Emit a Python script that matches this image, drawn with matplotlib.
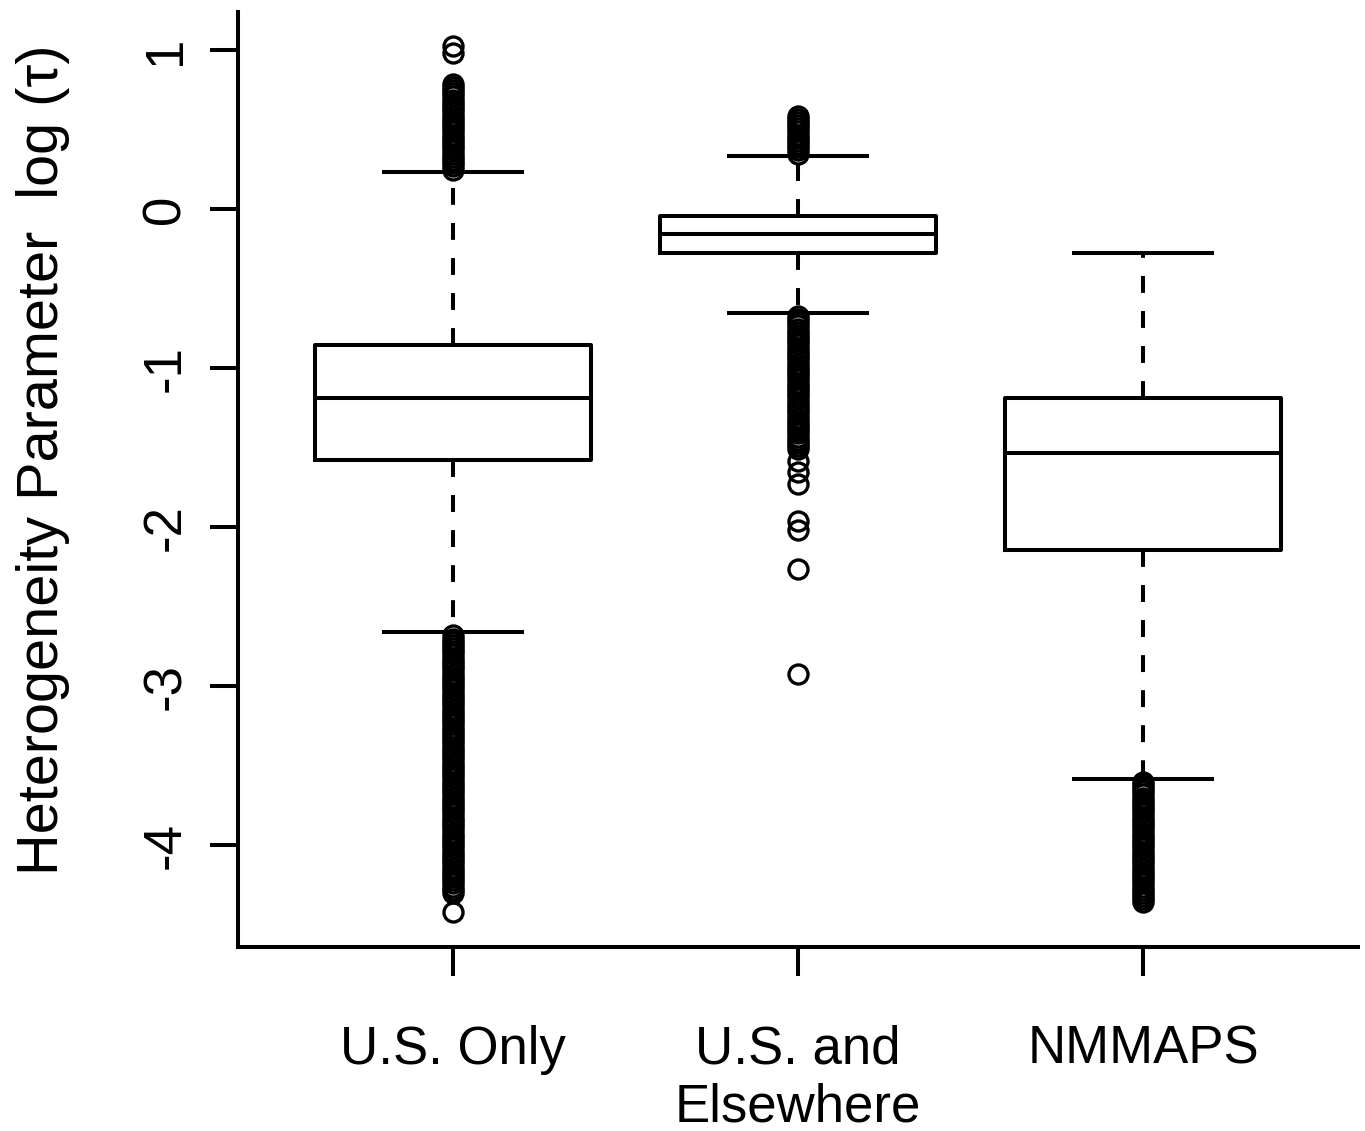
import matplotlib
matplotlib.use("Agg")
import matplotlib.pyplot as plt

plt.rcParams['font.family'] = ['Liberation Sans', 'DejaVu Sans']

categories = ["U.S. Only", "U.S. and\nElsewhere", "NMMAPS"]
positions = [1, 2, 3]

whisker_low = [-2.66, -0.65, -3.585]
q1_values = [-1.577, -0.275, -2.14]
median_values = [-1.187, -0.155, -1.53]
q3_values = [-0.853, -0.042, -1.187]
whisker_high = [0.235, 0.335, -0.275]

outliers_us_only = [
    0.25, 0.27, 0.29, 0.31, 0.33, 0.35, 0.37, 0.39, 0.41, 0.43, 0.45, 0.47,
    0.49, 0.51, 0.53, 0.55, 0.57, 0.59, 0.61, 0.63, 0.65, 0.67, 0.69, 0.71,
    0.73, 0.75, 0.77, 0.79, 0.98, 1.03,
    -2.68, -2.70, -2.72, -2.74, -2.76, -2.78, -2.80, -2.82, -2.84, -2.86,
    -2.88, -2.90, -2.92, -2.94, -2.96, -2.98, -3.00, -3.02, -3.04, -3.06,
    -3.08, -3.10, -3.12, -3.14, -3.16, -3.18, -3.20, -3.22, -3.24, -3.26,
    -3.28, -3.30, -3.32, -3.34, -3.36, -3.38, -3.40, -3.42, -3.44, -3.46,
    -3.48, -3.50, -3.52, -3.54, -3.56, -3.58, -3.60, -3.62, -3.64, -3.66,
    -3.68, -3.70, -3.72, -3.74, -3.76, -3.78, -3.80, -3.82, -3.84, -3.86,
    -3.88, -3.90, -3.92, -3.94, -3.96, -3.98, -4.00, -4.02, -4.04, -4.06,
    -4.08, -4.10, -4.12, -4.14, -4.16, -4.18, -4.20, -4.22, -4.24, -4.26,
    -4.28, -4.30, -4.42,
]
outliers_us_else = [
    0.35, 0.37, 0.39, 0.41, 0.43, 0.45, 0.47, 0.49, 0.51, 0.53, 0.55, 0.57,
    0.59,
    -0.67, -0.69, -0.71, -0.73, -0.75, -0.77, -0.79, -0.81, -0.83, -0.85,
    -0.87, -0.89, -0.91, -0.93, -0.95, -0.97, -0.99, -1.01, -1.03, -1.05,
    -1.07, -1.09, -1.11, -1.13, -1.15, -1.17, -1.19, -1.21, -1.23, -1.25,
    -1.27, -1.29, -1.31, -1.33, -1.35, -1.37, -1.39, -1.41, -1.43, -1.45,
    -1.47, -1.49, -1.51, -1.58, -1.65, -1.73, -1.96, -2.02, -2.26, -2.92,
]
outliers_nmmaps = [
    -3.60, -3.62, -3.64, -3.66, -3.68, -3.70, -3.72, -3.74, -3.76, -3.78,
    -3.80, -3.82, -3.84, -3.86, -3.88, -3.90, -3.92, -3.94, -3.96, -3.98,
    -4.00, -4.02, -4.04, -4.06, -4.08, -4.10, -4.12, -4.14, -4.16, -4.18,
    -4.20, -4.22, -4.24, -4.26, -4.28, -4.30, -4.32, -4.34, -4.36,
]
outlier_lists = [outliers_us_only, outliers_us_else, outliers_nmmaps]

y_ticks = [-4, -3, -2, -1, 0, 1]
y_tick_labels = ["-4", "-3", "-2", "-1", "0", "1"]
y_label = "Heterogeneity Parameter  log (\u03c4)"

W, H = 1365, 1131
fig = plt.figure(figsize=(W / 100, H / 100), dpi=100)
ax = fig.add_axes([238 / W, 1 - 947 / H, (1358 - 238) / W, (947 - 12) / H])

stats = []
for i in range(3):
    stats.append(dict(whislo=whisker_low[i], q1=q1_values[i], med=median_values[i],
                      q3=q3_values[i], whishi=whisker_high[i],
                      fliers=outlier_lists[i], label=categories[i]))

lw = 2.9
ax.bxp(stats, positions=positions, widths=0.8, capwidths=0.4,
       showfliers=True,
       boxprops=dict(color='black', linewidth=lw),
       medianprops=dict(color='black', linewidth=lw),
       whiskerprops=dict(color='black', linewidth=lw, linestyle=(0, (4.2, 4.5))),
       capprops=dict(color='black', linewidth=lw),
       flierprops=dict(marker='o', markerfacecolor='none', markeredgecolor='black',
                       markersize=13.7, markeredgewidth=2.4, linestyle='none'))

ax.set_xlim(0.377, 3.623)
ax.set_ylim(-4.64, 1.241)

for s in ['top', 'right']:
    ax.spines[s].set_visible(False)
for s in ['left', 'bottom']:
    ax.spines[s].set_linewidth(lw)
    ax.spines[s].set_color('black')

ax.set_yticks(y_ticks)
ax.set_yticklabels(y_tick_labels, rotation=90, va='center')
ax.set_xticks(positions)
ax.set_xticklabels(categories)
ax.tick_params(axis='y', length=20, width=lw, pad=14, labelsize=38, direction='out')
ax.tick_params(axis='x', length=21, width=lw, pad=35, labelsize=38, direction='out')

fig.text(16 / W, 1 - 460 / H, y_label, rotation=90, ha='left', va='center', fontsize=41.5)

fig.savefig("out.png", dpi=100)
